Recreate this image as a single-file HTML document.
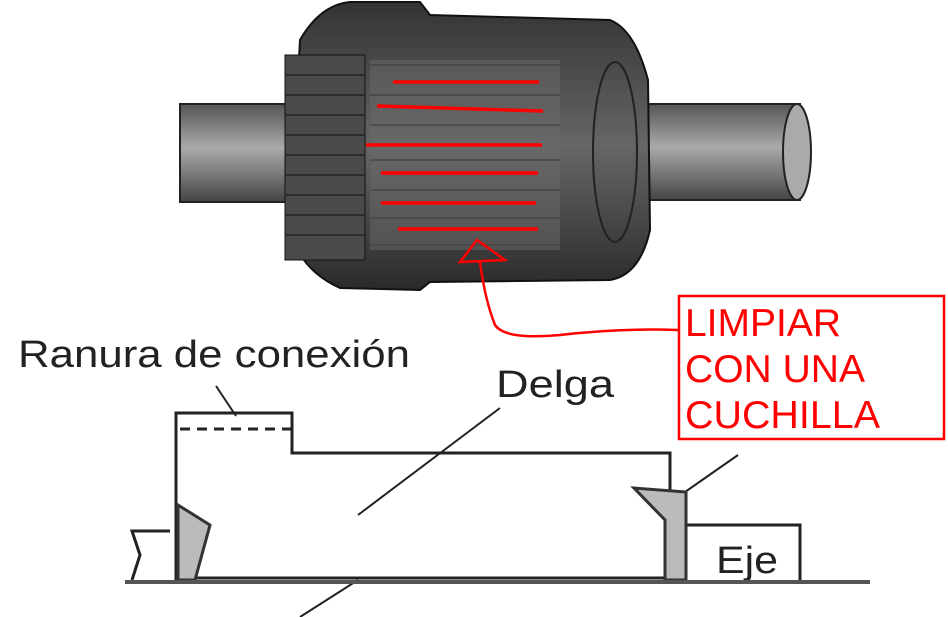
<!DOCTYPE html>
<html><head><style>
html,body{margin:0;padding:0;background:#fff;width:948px;height:617px;overflow:hidden}
svg{display:block}
</style></head><body>
<svg width="948" height="617" viewBox="0 0 948 617" xmlns="http://www.w3.org/2000/svg" font-family="Liberation Sans, sans-serif">
<defs>
<linearGradient id="sh" x1="0" y1="0" x2="0" y2="1">
<stop offset="0" stop-color="#555"/><stop offset="0.45" stop-color="#aaa"/><stop offset="1" stop-color="#444"/>
</linearGradient>
<linearGradient id="dr" x1="0" y1="0" x2="0" y2="1">
<stop offset="0" stop-color="#333"/><stop offset="0.5" stop-color="#666"/><stop offset="1" stop-color="#2a2a2a"/>
</linearGradient>
</defs>
<rect x="180" y="104" width="115" height="98" fill="url(#sh)" stroke="#222" stroke-width="2"/>
<rect x="600" y="104" width="200" height="96" fill="url(#sh)" stroke="#222" stroke-width="2"/>
<ellipse cx="797" cy="152" rx="14" ry="48" fill="#aaa" stroke="#222" stroke-width="2"/>
<path d="M300 40 Q320 5 350 2 L420 2 L430 15 L610 20 Q635 30 648 80 L650 230 Q640 275 610 280 L430 282 L420 290 L340 288 Q300 270 290 230 Z" fill="url(#dr)" stroke="#111" stroke-width="2"/>
<rect x="285" y="55" width="80" height="205" fill="#4a4a4a" stroke="#111"/>
<g stroke="#222" stroke-width="1.5">
<line x1="285" y1="75" x2="365" y2="75"/><line x1="285" y1="95" x2="365" y2="95"/><line x1="285" y1="115" x2="365" y2="115"/><line x1="285" y1="135" x2="365" y2="135"/><line x1="285" y1="155" x2="365" y2="155"/><line x1="285" y1="175" x2="365" y2="175"/><line x1="285" y1="195" x2="365" y2="195"/><line x1="285" y1="215" x2="365" y2="215"/><line x1="285" y1="235" x2="365" y2="235"/>
<line x1="370" y1="65" x2="560" y2="65"/><line x1="370" y1="95" x2="560" y2="95"/><line x1="370" y1="125" x2="560" y2="125"/><line x1="370" y1="160" x2="560" y2="160"/><line x1="370" y1="190" x2="560" y2="190"/><line x1="370" y1="218" x2="560" y2="218"/><line x1="370" y1="245" x2="560" y2="245"/>
</g>
<rect x="370" y="60" width="190" height="190" fill="#6a6a6a" opacity="0.5"/>
<ellipse cx="615" cy="152" rx="22" ry="90" fill="none" stroke="#222" stroke-width="2"/>
<g stroke="#ff0000" stroke-width="3.5">
<line x1="393" y1="82" x2="539" y2="82"/>
<line x1="377" y1="106" x2="543" y2="111"/>
<line x1="366" y1="145" x2="542" y2="145"/>
<line x1="381" y1="173" x2="538" y2="173"/>
<line x1="381" y1="203" x2="536" y2="203"/>
<line x1="398" y1="229" x2="538" y2="229"/>
</g>
<path d="M477 240 L460 262 L505 260 Z" fill="none" stroke="#ff0000" stroke-width="2.5"/>
<path d="M480 262 Q485 300 495 325 Q505 340 560 335 Q620 328 678 330" fill="none" stroke="#ff0000" stroke-width="2.5"/>
<rect x="679" y="296" width="265" height="143" fill="#fff" stroke="#ff0000" stroke-width="2.5"/>
<g fill="#ff0000" font-size="39">
<text x="685" y="336" textLength="156" lengthAdjust="spacingAndGlyphs">LIMPIAR</text>
<text x="685" y="382" textLength="180" lengthAdjust="spacingAndGlyphs">CON UNA</text>
<text x="685" y="428" textLength="195" lengthAdjust="spacingAndGlyphs">CUCHILLA</text>
</g>
<text x="18" y="367" font-size="38" fill="#222" textLength="392" lengthAdjust="spacingAndGlyphs">Ranura de conexión</text>
<text x="496" y="397" font-size="38" fill="#222" textLength="118" lengthAdjust="spacingAndGlyphs">Delga</text>
<text x="716" y="573" font-size="38" fill="#222" textLength="62" lengthAdjust="spacingAndGlyphs">Eje</text>
<g stroke="#222" stroke-width="3" fill="none">
<path d="M176 580 L176 413 L292 413 L292 453 L670 453 L670 490"/>
<line x1="180" y1="429" x2="292" y2="429" stroke-dasharray="10,7"/>
<line x1="216" y1="386" x2="236" y2="416" stroke-width="2"/>
<line x1="500" y1="408" x2="358" y2="515" stroke-width="2"/>
<line x1="738" y1="455" x2="685" y2="492" stroke-width="2"/>
<line x1="358" y1="580" x2="300" y2="617" stroke-width="2"/>
<path d="M686 525 L800 525 L800 580"/>
<path d="M170 531 L132 531 L140 555 L132 580"/>
<line x1="190" y1="578" x2="665" y2="578"/>
</g>
<path d="M178 505 L210 525 L195 580 L178 580 Z" fill="#bbb" stroke="#333" stroke-width="3"/>
<path d="M634 488 L686 492 L686 580 L665 580 L665 520 Z" fill="#bbb" stroke="#333" stroke-width="3"/>
<line x1="125" y1="582" x2="870" y2="582" stroke="#555" stroke-width="4"/>
</svg>
</body></html>
